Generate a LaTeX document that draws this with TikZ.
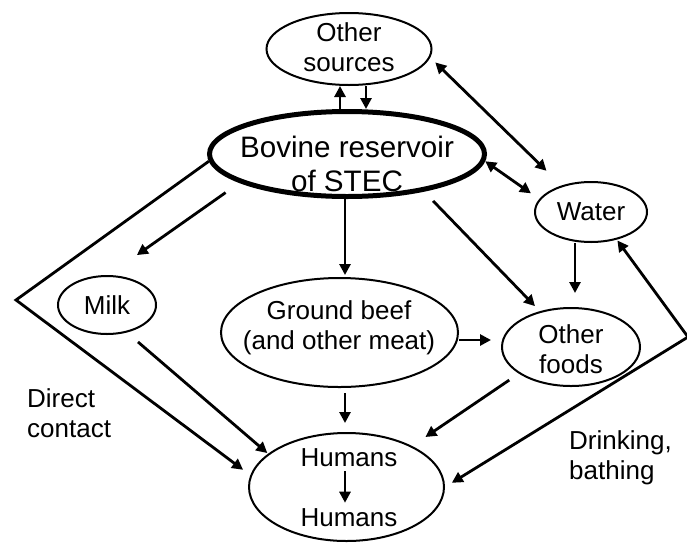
\documentclass[tikz,border=0pt]{standalone}
\usepackage{fontspec}
\setmainfont{Liberation Sans}
\usetikzlibrary{arrows.meta}
\usetikzlibrary{shapes.geometric}

\tikzset{
  oval/.style={ellipse, draw, line width=2pt, inner sep=0pt},
  big oval/.style={oval, line width=5pt},
  txt/.style={font=\fontsize{26}{30}\selectfont, align=center, inner sep=0pt},
  arr/.style={line width=2.8pt, -{Triangle[length=11pt,width=11pt]}},
  darr/.style={line width=2.8pt, {Triangle[length=11pt,width=11pt]}-{Triangle[length=11pt,width=11pt]}}
}

\begin{document}
\begin{tikzpicture}[x=1pt, y=-1pt]
			\useasboundingbox (0,0) rectangle (687,544);
			\node[oval, minimum width=165pt, minimum height=72pt] (sources) at (349,49) {};
			\node[big oval, minimum width=275pt, minimum height=85pt] (bovine) at (347,154) {};
			\node[oval, minimum width=112pt, minimum height=60pt] (water) at (591,212) {};
			\node[oval, minimum width=98pt, minimum height=58pt] (milk) at (107,305) {};
			\node[oval, minimum width=237pt, minimum height=109pt] (beef) at (339.5,332.5) {};
			\node[oval, minimum width=138pt, minimum height=78pt] (foods) at (571,347) {};
			\node[oval, minimum width=195pt, minimum height=108pt] (humans) at (346.5,487) {};
			\node[txt] (sourcesText) at (349,47) {Other\\sources};
			\node[txt, font=\fontsize{29.6}{34}\selectfont] (bovineText) at (347,163.5) {Bovine reservoir\\of STEC};
			\node[txt] (waterText) at (591,212) {Water};
			\node[txt] (milkText) at (107,305) {Milk};
			\node[txt] (beefText) at (339,328) {Ground beef\\(and other meat)};
			\node[txt] (foodsText) at (571,349) {Other\\foods};
			\node[txt] (hum1) at (349,458) {Humans};
			\node[txt] (hum2) at (349,518) {Humans};
			\node[txt, align=left, anchor=west] (contactText) at (27,413) {Direct\\contact};
			\node[txt, align=left, anchor=west] (drinkText) at (569,458) {Drinking,\\bathing};
			\coordinate (dc) at (16,300);
			\coordinate (dr) at (688,337);
			\draw[arr] ([xshift=-7pt]bovine.north) -- ([xshift=-9pt]sources.south);
			\draw[arr] ([xshift=17pt]sources.south) -- ([xshift=19pt]bovine.north);
			\draw[darr, shorten <=7pt, shorten >=21pt] (sources.354) -- (water.138);
			\draw[darr, shorten >=10pt] (bovine.357) -- (water.166);
			\draw[arr, shorten >=14pt] ([xshift=-16pt]water.south) -- ([xshift=4pt]foods.north);
			\draw[arr, shorten <=13pt, shorten >=7pt] (bovine.334) -- (foods.131);
			\draw[arr, shorten >=2pt] ([xshift=-2pt]bovine.south) -- ([xshift=5.5pt]beef.north);
			\draw[arr, shorten <=17pt, shorten >=34.6pt] (bovine.195) -- (milk.87);
			\draw[arr, shorten <=14.5pt, shorten >=1pt] (milk.306) -- (humans.157);
			\draw[arr, shorten >=9pt] (bovine.183) -- (dc) -- (humans.173);
			\draw[arr, shorten >=10pt] ([yshift=-7.5pt]beef.east) -- ([yshift=7pt]foods.west);
			\draw[arr, shorten <=5pt, shorten >=9pt] ([xshift=5.5pt]beef.south) -- ([xshift=-1.5pt]humans.north);
			\draw[arr, shorten <=11.5pt, shorten >=16pt] (foods.207) -- (humans.32);
			\draw[darr, shorten <=8pt, shorten >=1pt] (humans.0) -- (dr) -- (water.313);
			\draw[arr, shorten <=4pt, shorten >=6pt] ([xshift=-4pt]hum1.south) -- ([xshift=-4pt]hum2.north);
		\end{tikzpicture}
\end{document}
